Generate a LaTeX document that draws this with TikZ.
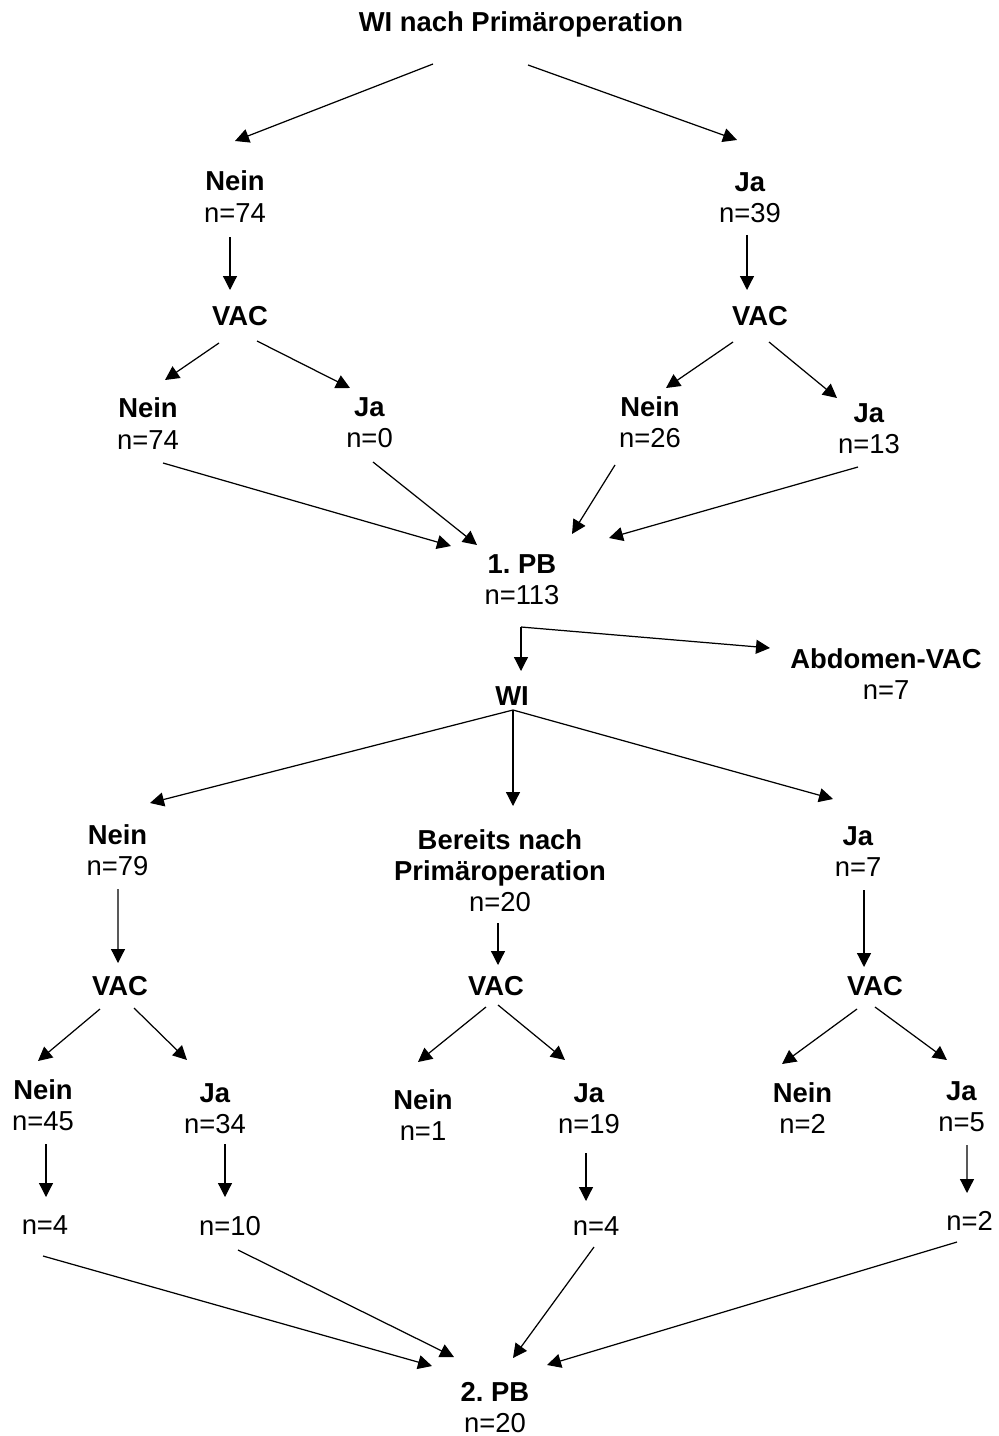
\documentclass[tikz,border=0pt]{standalone}
\usepackage{fontspec}
\setmainfont{Liberation Sans}
\usetikzlibrary{arrows.meta, calc}

\begin{document}
\begin{tikzpicture}[x = 0.02cm, y = -0.02cm,
		feld/.style = {align = center, inner sep = 0pt, font = \fontsize{15.6}{17.8}\selectfont\frenchspacing},
		pfeil/.style = {line width = 0.7pt, -{Triangle[length = 0.28cm, width = 0.28cm]}}]
	\useasboundingbox (0, 0) rectangle (998, 1436);
	% erste Stufe
	\node[feld] (titel) at (521, 24) {\textbf{WI nach Primäroperation}};
	\node[feld] (neinA) at (235, 196.5) {\textbf{Nein}\\n=74};
	\node[feld] (jaA) at (750, 197.5) {\textbf{Ja}\\n=39};
	\node[feld] (vacA) at (240, 316.5) {\textbf{VAC}};
	\node[feld] (vacB) at (760, 316) {\textbf{VAC}};
	\node[feld] (neinAN) at (148, 423.5) {\textbf{Nein}\\n=74};
	\node[feld] (neinAJ) at (369.5, 422.5) {\textbf{Ja}\\n=0};
	\node[feld] (jaAN) at (650, 422.5) {\textbf{Nein}\\n=26};
	\node[feld] (jaAJ) at (869, 429) {\textbf{Ja}\\n=13};
	\node[feld] (pbA) at (522, 580) {\textbf{1. PB}\\n=113};
	\node[feld] (abdomen) at (886, 674) {\textbf{Abdomen-VAC}\\n=7};
	\node[feld] (wi) at (512, 696) {\textbf{WI}};
	\draw[pfeil] ($(titel)+(-88, 40)$) -- ($(neinA)+(0, -55.5)$);
	\draw[pfeil] ($(titel)+(7, 41)$) -- ($(jaA)+(-13, -57.5)$);
	\draw[pfeil] ($(neinA)+(-5, 40.5)$) -- ($(vacA)+(-10, -26.5)$);
	\draw[pfeil] ($(jaA)+(-3, 37.5)$) -- ($(vacB)+(-13, -26)$);
	\draw[pfeil] ($(vacA)+(-21, 26.5)$) -- ($(neinAN)+(17, -43.5)$);
	\draw[pfeil] ($(vacA)+(17, 24.5)$) -- ($(neinAJ)+(-19.5, -34.5)$);
	\draw[pfeil] ($(vacB)+(-27, 26)$) -- ($(jaAN)+(16, -34.5)$);
	\draw[pfeil] ($(vacB)+(9, 26)$) -- ($(jaAJ)+(-32, -31)$);
	\draw[pfeil] ($(neinAN)+(15, 39.5)$) -- ($(pbA)+(-71, -34)$);
	\draw[pfeil] ($(neinAJ)+(3.5, 39.5)$) -- ($(pbA)+(-45, -35)$);
	\draw[pfeil] ($(jaAN)+(-35, 42.5)$) -- ($(pbA)+(50, -46)$);
	\draw[pfeil] ($(jaAJ)+(-11, 38)$) -- ($(pbA)+(87, -42)$);
	\coordinate (gabelA) at ($(pbA)+(-1, 47)$);
	\draw[pfeil] (gabelA) -- ($(wi)+(9, -25)$);
	\draw[pfeil] (gabelA) -- ($(abdomen)+(-116, -26)$);
	% zweite Stufe
	\node[feld] (neinB) at (117.5, 850) {\textbf{Nein}\\n=79};
	\node[feld] (bereits) at (500, 870.5) {\textbf{Bereits nach}\\\textbf{Primäroperation}\\n=20};
	\node[feld] (jaB) at (858, 851.5) {\textbf{Ja}\\n=7};
	\node[feld] (vacC) at (120, 986.5) {\textbf{VAC}};
	\node[feld] (vacD) at (496, 986.5) {\textbf{VAC}};
	\node[feld] (vacE) at (875, 986.5) {\textbf{VAC}};
	\node[feld] (neinBN) at (43, 1105.5) {\textbf{Nein}\\n=45};
	\node[feld] (neinBJ) at (215, 1109) {\textbf{Ja}\\n=34};
	\node[feld] (bereitsN) at (423, 1115) {\textbf{Nein}\\n=1};
	\node[feld] (bereitsJ) at (589, 1109) {\textbf{Ja}\\n=19};
	\node[feld] (jaBN) at (802.5, 1108) {\textbf{Nein}\\n=2};
	\node[feld] (jaBJ) at (961.5, 1106.5) {\textbf{Ja}\\n=5};
	\node[feld] (restA) at (45, 1225.5) {n=4};
	\node[feld] (restB) at (230, 1226) {n=10};
	\node[feld] (restC) at (596, 1226.5) {n=4};
	\node[feld] (restD) at (969.5, 1220.5) {n=2};
	\node[feld] (pbB) at (495, 1407.5) {\textbf{2. PB}\\n=20};
	\coordinate (gabelB) at ($(wi)+(1, 14)$);
	\draw[pfeil] (gabelB) -- ($(neinB)+(32.5, -47)$);
	\draw[pfeil] (gabelB) -- ($(bereits)+(13, -64.5)$);
	\draw[pfeil] (gabelB) -- ($(jaB)+(-25, -52.5)$);
	\draw[pfeil] ($(neinB)+(0.5, 39)$) -- ($(vacC)+(-2, -23.5)$);
	\draw[pfeil] ($(bereits)+(-2, 52.5)$) -- ($(vacD)+(2, -21.5)$);
	\draw[pfeil] ($(jaB)+(6, 38.5)$) -- ($(vacE)+(-11, -19.5)$);
	\draw[pfeil] ($(vacC)+(-20, 22.5)$) -- ($(neinBN)+(-5, -44.5)$);
	\draw[pfeil] ($(vacC)+(14, 21.5)$) -- ($(neinBJ)+(-28, -49)$);
	\draw[pfeil] ($(vacD)+(-10, 20.5)$) -- ($(bereitsN)+(-5, -53)$);
	\draw[pfeil] ($(vacD)+(2, 18.5)$) -- ($(bereitsJ)+(-24, -49)$);
	\draw[pfeil] ($(vacE)+(-18, 22.5)$) -- ($(jaBN)+(-20.5, -44)$);
	\draw[pfeil] ($(vacE)+(0, 20.5)$) -- ($(jaBJ)+(-14.5, -46.5)$);
	\draw[pfeil] ($(neinBN)+(3, 38.5)$) -- ($(restA)+(1, -28.5)$);
	\draw[pfeil] ($(neinBJ)+(10, 35)$) -- ($(restB)+(-5, -29)$);
	\draw[pfeil] ($(bereitsJ)+(-3, 44)$) -- ($(restC)+(-10, -25.5)$);
	\draw[pfeil] ($(jaBJ)+(5.5, 38.5)$) -- ($(restD)+(-2.5, -27.5)$);
	\draw[pfeil] ($(restA)+(-2, 30.5)$) -- ($(pbB)+(-63, -41.5)$);
	\draw[pfeil] ($(restB)+(8, 24)$) -- ($(pbB)+(-41, -50.5)$);
	\draw[pfeil] ($(restC)+(-2, 20.5)$) -- ($(pbB)+(18, -49.5)$);
	\draw[pfeil] ($(restD)+(-12.5, 21.5)$) -- ($(pbB)+(52, -42.5)$);
\end{tikzpicture}
\end{document}
